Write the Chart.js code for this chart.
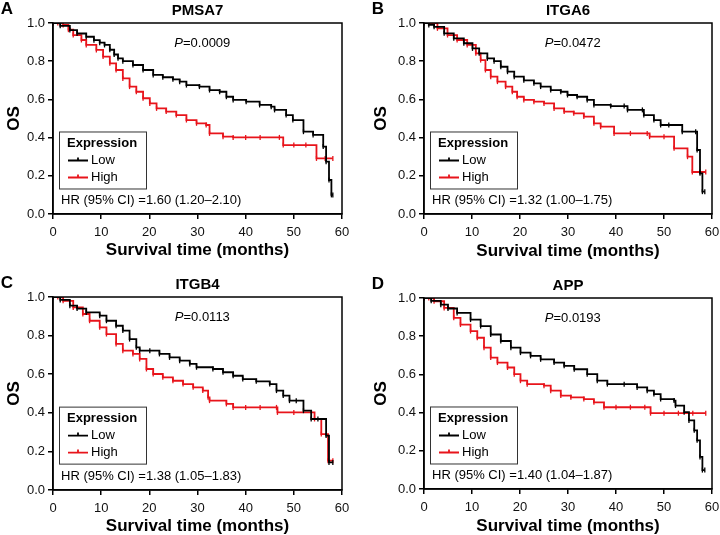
<!DOCTYPE html>
<html>
<head>
<meta charset="utf-8">
<script src="https://cdn.jsdelivr.net/npm/chart.js@4.4.1/dist/chart.umd.min.js"></script>
<style>
  html, body { margin: 0; padding: 0; background: #fff; }
  body { width: 720px; height: 535px; position: relative; overflow: hidden; }
  .panel { position: absolute; }
</style>
</head>
<body>
<div class="panel" id="pA"><canvas id="cA"></canvas></div>
<div class="panel" id="pB"><canvas id="cB"></canvas></div>
<div class="panel" id="pC"><canvas id="cC"></canvas></div>
<div class="panel" id="pD"><canvas id="cD"></canvas></div>
<script>
// ---- data (months, overall survival) ----
const xTicks = [0, 10, 20, 30, 40, 50, 60];
const yTicks = [0, 0.2, 0.4, 0.6, 0.8, 1.0];
const groupLabels = ['Low', 'High'];
const genes = ['PMSA7', 'ITGA6', 'ITGB4', 'APP'];
const panelLetters = ['A', 'B', 'C', 'D'];
const pValues = ['0.0009', '0.0472', '0.0113', '0.0193'];
const hrTexts = ['1.60 (1.20–2.10)', '1.32 (1.00–1.75)', '1.38 (1.05–1.83)', '1.40 (1.04–1.87)'];

const pmsa7LowT = [0, 1.5, 3.5, 5, 6.9, 8.5, 9.7, 10.7, 11.8, 12.7, 13.5, 14.5, 16.6, 18.7, 20.8, 22.8, 24.9, 26.3, 27.7, 30.4, 32.5, 34.6, 36, 37.4, 40.1, 42.9, 45.3, 46, 48.4, 49.8, 52, 54, 56.1, 56.7, 57.3, 57.8, 58.1];
const pmsa7LowS = [1.0, 0.985, 0.963, 0.945, 0.928, 0.91, 0.897, 0.885, 0.86, 0.835, 0.815, 0.80, 0.78, 0.754, 0.728, 0.716, 0.705, 0.693, 0.675, 0.667, 0.649, 0.64, 0.614, 0.597, 0.588, 0.571, 0.562, 0.545, 0.518, 0.492, 0.431, 0.414, 0.353, 0.274, 0.178, 0.10, 0.10];
const pmsa7HighT = [0, 1, 2.1, 3.2, 4.2, 5.9, 6.9, 9, 10.4, 11.8, 13.1, 14.5, 15.9, 17.3, 18.7, 20.1, 21.5, 23.5, 25.6, 27.7, 29.8, 31.8, 32.5, 35.3, 37.4, 40, 43, 47, 47.8, 50, 52.5, 54.7, 56.5, 58.1];
const pmsa7HighS = [1.0, 1.0, 0.99, 0.965, 0.937, 0.911, 0.885, 0.859, 0.824, 0.789, 0.754, 0.71, 0.667, 0.64, 0.606, 0.579, 0.553, 0.536, 0.518, 0.492, 0.475, 0.466, 0.422, 0.405, 0.401, 0.401, 0.401, 0.401, 0.361, 0.361, 0.361, 0.291, 0.291, 0.291];

const itga6LowT = [0, 1, 2.1, 4.2, 6.2, 8.3, 10.1, 11.5, 13.2, 14.6, 16, 17.4, 18.8, 20.8, 22.9, 24.3, 26.4, 28.5, 29.9, 31.9, 34, 35.4, 38.9, 41.7, 42.4, 45.5, 45.8, 47.9, 49.3, 51, 53.8, 56.6, 56.9, 57.5, 58, 58.5];
const itga6LowS = [1.0, 0.99, 0.98, 0.946, 0.92, 0.894, 0.867, 0.841, 0.815, 0.80, 0.771, 0.745, 0.719, 0.70, 0.684, 0.667, 0.649, 0.64, 0.623, 0.614, 0.597, 0.571, 0.565, 0.565, 0.545, 0.545, 0.518, 0.492, 0.466, 0.466, 0.431, 0.431, 0.335, 0.213, 0.117, 0.117];
const itga6HighT = [0, 1, 2.8, 4.9, 6.9, 9, 10.8, 11.8, 12.8, 13.9, 15.3, 17, 18.4, 19.4, 20.8, 22.9, 25, 27.1, 29.2, 31.2, 33.3, 35.4, 36.8, 39.6, 43, 46.5, 47, 50, 52.1, 54.9, 55.9, 57.5, 58.7];
const itga6HighS = [1.0, 1.0, 0.972, 0.937, 0.911, 0.885, 0.841, 0.806, 0.754, 0.719, 0.693, 0.667, 0.64, 0.614, 0.597, 0.588, 0.579, 0.553, 0.536, 0.527, 0.51, 0.475, 0.457, 0.422, 0.422, 0.422, 0.405, 0.405, 0.344, 0.30, 0.22, 0.22, 0.22];

const itgb4LowT = [0, 1.5, 3.5, 5, 6.9, 9.7, 11.1, 13.1, 14.5, 15.9, 17.3, 18, 20.1, 22.1, 24.2, 26.3, 28.4, 29.8, 33.2, 35.3, 37.4, 39.4, 42.2, 45, 46.4, 47.8, 49.1, 50.5, 52, 53.6, 55, 56.7, 57.3, 58.1];
const itgb4LowS = [1.0, 0.985, 0.955, 0.94, 0.92, 0.903, 0.877, 0.851, 0.826, 0.782, 0.739, 0.722, 0.722, 0.705, 0.687, 0.67, 0.653, 0.636, 0.627, 0.61, 0.592, 0.575, 0.563, 0.549, 0.515, 0.489, 0.463, 0.463, 0.411, 0.368, 0.368, 0.282, 0.143, 0.143];
const itgb4HighT = [0, 1, 2.1, 4.2, 6.2, 7.6, 9.7, 11.1, 13.1, 14.5, 16.6, 18, 19.4, 20.8, 22.8, 24.9, 27, 29.1, 31.1, 32.2, 32.5, 36, 37.4, 40, 43, 46.4, 46.6, 50, 54.3, 55.7, 57.1, 58.1];
const itgb4HighS = [1.0, 1.0, 0.98, 0.946, 0.912, 0.877, 0.843, 0.808, 0.757, 0.722, 0.705, 0.679, 0.627, 0.601, 0.584, 0.566, 0.549, 0.532, 0.515, 0.48, 0.463, 0.446, 0.428, 0.428, 0.428, 0.428, 0.402, 0.402, 0.368, 0.29, 0.152, 0.152];

const appLowT = [0, 1.5, 3.5, 5, 6.9, 9.7, 11.8, 13.9, 16, 18.1, 20.1, 22.2, 24.3, 27.1, 29.2, 31.3, 34, 36.1, 38.2, 41.7, 44.4, 46.5, 47.9, 49.3, 52.1, 52.4, 54.2, 55.2, 56.3, 56.9, 57.5, 58, 58.5];
const appLowS = [1.0, 0.985, 0.965, 0.945, 0.922, 0.887, 0.853, 0.809, 0.775, 0.74, 0.714, 0.697, 0.679, 0.662, 0.645, 0.627, 0.601, 0.567, 0.549, 0.549, 0.532, 0.515, 0.497, 0.471, 0.463, 0.437, 0.402, 0.359, 0.307, 0.255, 0.168, 0.099, 0.099];
const appHighT = [0, 1, 2.1, 4.2, 6.2, 7.6, 9.7, 11.1, 12.5, 13.9, 15.3, 17.4, 18.8, 20.1, 21.5, 25, 26.4, 28.5, 30.6, 33.3, 35.4, 37.5, 40, 43, 46, 47.2, 50, 53, 56, 58.7];
const appHighS = [1.0, 1.0, 0.983, 0.948, 0.896, 0.861, 0.827, 0.792, 0.74, 0.688, 0.662, 0.636, 0.601, 0.567, 0.549, 0.541, 0.515, 0.489, 0.48, 0.471, 0.454, 0.428, 0.428, 0.428, 0.428, 0.397, 0.397, 0.397, 0.397, 0.397];

const curves = [
  [[pmsa7LowT, pmsa7LowS], [pmsa7HighT, pmsa7HighS]],
  [[itga6LowT, itga6LowS], [itga6HighT, itga6HighS]],
  [[itgb4LowT, itgb4LowS], [itgb4HighT, itgb4HighS]],
  [[appLowT, appLowS], [appHighT, appHighS]]
];

// ---- layout of the four panels (pixels) ----
const boxes = [
  { id: 'A', left: 0,   top: 0,   w: 360, h: 265, plotLeft: 53, plotTop: 23, plotBottom: 214, osX: 14, xTitleY: 250 },
  { id: 'B', left: 360, top: 0,   w: 370, h: 265, plotLeft: 64, plotTop: 23, plotBottom: 214, osX: 21, xTitleY: 251 },
  { id: 'C', left: 0,   top: 265, w: 360, h: 270, plotLeft: 53, plotTop: 32, plotBottom: 225, osX: 14, xTitleY: 262 },
  { id: 'D', left: 360, top: 265, w: 370, h: 270, plotLeft: 64, plotTop: 33, plotBottom: 224, osX: 21, xTitleY: 262 }
];

const FONT = "'Liberation Sans', Arial, Helvetica, sans-serif";
const colors = ['#000000', '#e8141b'];

const kmExtras = {
  id: 'kmExtras',
  afterDatasetsDraw(chart, args, opts) {
    const { ctx, chartArea: a, scales: { x, y } } = chart;
    ctx.save();
    ctx.strokeStyle = '#000';
    ctx.lineWidth = 1.5;
    ctx.strokeRect(a.left, a.top, a.right - a.left, a.bottom - a.top);

    ctx.fillStyle = '#000';
    ctx.textBaseline = 'middle';

    // panel letter and gene title
    ctx.textAlign = 'center';
    ctx.font = 'bold 17px ' + FONT;
    ctx.fillText(opts.letter, a.left - 46, a.top - 14);
    ctx.font = 'bold 15px ' + FONT;
    ctx.fillText(opts.gene, (a.left + a.right) / 2, a.top - 12);

    // P value, italic P
    ctx.font = 'italic 13px ' + FONT;
    const wP = ctx.measureText('P').width;
    ctx.font = '13px ' + FONT;
    const rest = '=' + opts.p;
    const wR = ctx.measureText(rest).width;
    const px = x.getPixelForValue(31) - (wP + wR) / 2;
    const py = y.getPixelForValue(0.893);
    ctx.textAlign = 'left';
    ctx.font = 'italic 13px ' + FONT;
    ctx.fillText('P', px, py);
    ctx.font = '13px ' + FONT;
    ctx.fillText(rest, px + wP, py);

    // hazard ratio
    ctx.fillText('HR (95% CI) =' + opts.hr, a.left + 8, y.getPixelForValue(0.072));

    // legend box
    const lx = a.left + 6, ly = y.getPixelForValue(0.432), lw = 87, lh = 57;
    ctx.fillStyle = '#fff';
    ctx.fillRect(lx, ly, lw, lh);
    ctx.strokeStyle = '#333';
    ctx.lineWidth = 1;
    ctx.strokeRect(lx + 0.5, ly + 0.5, lw, lh);
    ctx.fillStyle = '#000';
    ctx.font = 'bold 13px ' + FONT;
    ctx.fillText('Expression', lx + 8, ly + 12);
    ctx.font = '13px ' + FONT;
    chart.data.datasets.forEach((ds, i) => {
      const ry = ly + 29 + i * 17;
      ctx.strokeStyle = ds.borderColor;
      ctx.lineWidth = 1.8;
      ctx.beginPath();
      ctx.moveTo(lx + 9, ry);
      ctx.lineTo(lx + 29, ry);
      ctx.moveTo(lx + 19, ry - 3);
      ctx.lineTo(lx + 19, ry);
      ctx.stroke();
      ctx.fillStyle = '#000';
      ctx.fillText(ds.label, lx + 32, ry);
    });
    ctx.restore();
  }
};

boxes.forEach((b, k) => {
  const holder = document.getElementById('p' + b.id);
  holder.style.left = b.left + 'px';
  holder.style.top = b.top + 'px';
  holder.style.width = b.w + 'px';
  holder.style.height = b.h + 'px';

  const datasets = curves[k].map((c, i) => ({
    label: groupLabels[i],
    data: c[0].map((t, j) => ({ x: t, y: c[1][j] })),
    borderColor: colors[i],
    backgroundColor: colors[i],
    borderWidth: 1.8,
    stepped: true,
    pointStyle: 'line',
    pointRotation: 90,
    pointRadius: 2.5,
    pointBorderWidth: 1.3,
    pointBorderColor: colors[i],
    fill: false
  }));

  new Chart(document.getElementById('c' + b.id), {
    type: 'line',
    data: { datasets },
    plugins: [kmExtras],
    options: {
      responsive: true,
      maintainAspectRatio: false,
      animation: false,
      events: [],
      layout: { padding: { left: 0, right: 18, top: b.plotTop, bottom: 0 } },
      plugins: {
        legend: { display: false },
        tooltip: { enabled: false },
        kmExtras: { letter: panelLetters[k], gene: genes[k], p: pValues[k], hr: hrTexts[k] }
      },
      scales: {
        x: {
          type: 'linear',
          min: 0, max: 60,
          afterBuildTicks: s => { s.ticks = xTicks.map(v => ({ value: v })); },
          afterFit: s => { s.height = b.h - b.plotBottom; },
          ticks: { color: '#111', padding: 6, font: { family: FONT, size: 13 } },
          grid: { drawOnChartArea: false, drawTicks: true, tickLength: 5, color: '#000', lineWidth: 1.5 },
          border: { color: '#000', width: 1.5 },
          title: {
            display: true, text: 'Survival time (months)', color: '#000',
            font: { family: FONT, size: 17, weight: 'bold', lineHeight: 1 },
            padding: { top: 0, bottom: Math.max(0, b.h - b.xTitleY - 8.5) }
          }
        },
        y: {
          min: 0, max: 1,
          afterBuildTicks: s => { s.ticks = yTicks.map(v => ({ value: v })); },
          afterFit: s => { s.width = b.plotLeft; },
          ticks: { color: '#111', padding: 3, font: { family: FONT, size: 13 }, callback: v => v.toFixed(1) },
          grid: { drawOnChartArea: false, drawTicks: true, tickLength: 5, color: '#000', lineWidth: 1.5 },
          border: { color: '#000', width: 1.5 },
          title: {
            display: true, text: 'OS', color: '#000',
            font: { family: FONT, size: 17, weight: 'bold', lineHeight: 1 },
            padding: { top: Math.max(0, b.osX - 8.5), bottom: 0 }
          }
        }
      }
    }
  });
});
</script>
</body>
</html>
